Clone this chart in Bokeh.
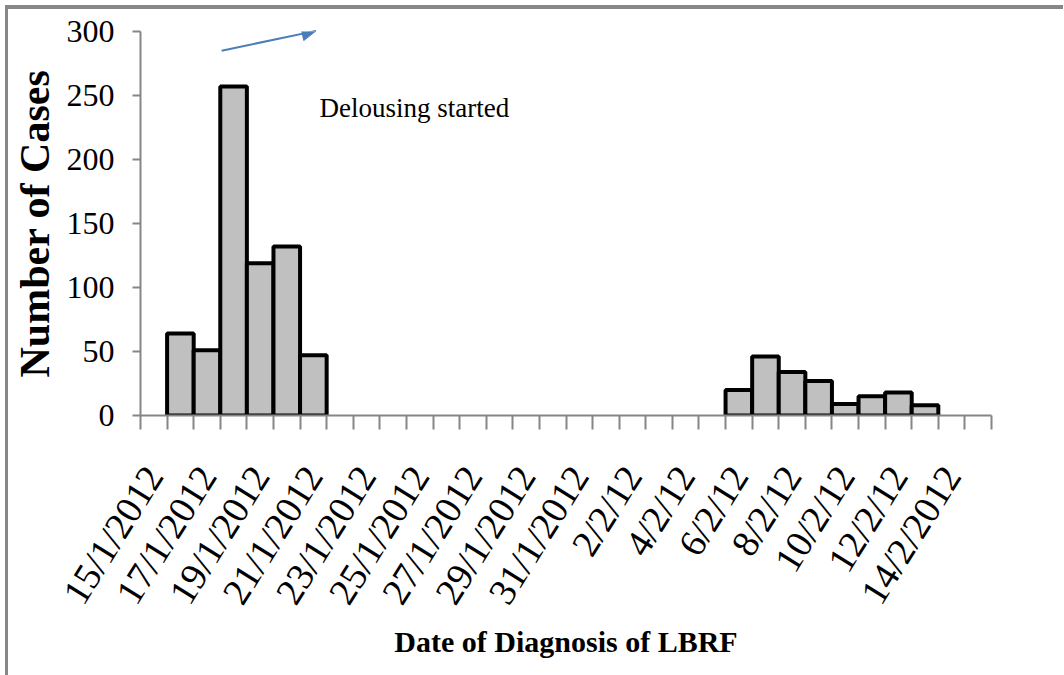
from bokeh.plotting import figure
from bokeh.models import FixedTicker, Range1d, Arrow, NormalHead, Label, ColumnDataSource
from bokeh.embed import file_html
from bokeh.resources import INLINE
import math

# ---- data ----
dates = ["15/1/2012", "16/1/2012", "17/1/2012", "18/1/2012", "19/1/2012", "20/1/2012",
         "21/1/2012", "22/1/2012", "23/1/2012", "24/1/2012", "25/1/2012", "26/1/2012",
         "27/1/2012", "28/1/2012", "29/1/2012", "30/1/2012", "31/1/2012", "1/2/12",
         "2/2/12", "3/2/12", "4/2/12", "5/2/12", "6/2/12", "7/2/12", "8/2/12", "9/2/12",
         "10/2/12", "11/2/12", "12/2/12", "13/2/12", "14/2/2012", "15/2/2012"]
cases = [0, 64, 51, 257, 119, 132, 47, 0, 0, 0, 0, 0, 0, 0, 0, 0, 0, 0,
         0, 0, 0, 0, 20, 46, 34, 27, 9, 15, 18, 8, 0, 0]
y_ticks = [0, 50, 100, 150, 200, 250, 300]
annotation_text = "Delousing started"
x_title = "Date of Diagnosis of LBRF"
y_title = "Number of Cases"

n = len(dates)
xs = [i + 0.5 for i, c in enumerate(cases) if c > 0]
hs = [c for c in cases if c > 0]
src = ColumnDataSource(dict(x=xs, top=hs))

FONT = "Liberation Serif"
AX = "#868686"

p = figure(frame_width=851, frame_height=384, output_backend="svg", toolbar_location=None,
           x_range=Range1d(0, n), y_range=Range1d(0, 300),
           min_border_left=125, min_border_top=22, min_border_right=72, min_border_bottom=262)
p.margin = (5, 0, 0, 5)
p.styles = {"border-left": "3px solid #878787", "border-top": "4px solid #878787"}
p.outline_line_color = None
p.xgrid.visible = False
p.ygrid.visible = False
p.background_fill_color = "white"

p.vbar(x="x", top="top", width=1.0, bottom=0, source=src,
       fill_color="#c0c0c0", line_color="black", line_width=4)

# x axis: labels at every other category centre, tick marks at category boundaries
label_pos = [i + 0.5 for i in range(0, n, 2)]
xa = p.xaxis[0]
xa.ticker = FixedTicker(ticks=label_pos, minor_ticks=list(range(0, n + 1)))
xa.major_label_overrides = {i + 0.5: dates[i] for i in range(0, n, 2)}
xa.major_tick_line_color = None
xa.minor_tick_line_color = AX
xa.minor_tick_line_width = 2
xa.minor_tick_out = 14
xa.minor_tick_in = 0
xa.axis_line_color = AX
xa.axis_line_width = 2
xa.major_label_orientation = math.radians(58)
xa.major_label_text_font = FONT
xa.major_label_text_font_size = "38px"
xa.major_label_text_color = "black"
xa.major_label_standoff = 40
xa.axis_label = x_title
xa.axis_label_text_font = FONT
xa.axis_label_text_font_style = "bold"
xa.axis_label_text_font_size = "30px"
xa.axis_label_text_color = "black"
xa.axis_label_standoff = 0

ya = p.yaxis[0]
ya.ticker = FixedTicker(ticks=y_ticks)
ya.minor_tick_line_color = None
ya.major_tick_line_color = AX
ya.major_tick_line_width = 2
ya.major_tick_out = 8
ya.major_tick_in = 0
ya.axis_line_color = AX
ya.axis_line_width = 2
ya.major_label_text_font = FONT
ya.major_label_text_font_size = "32px"
ya.major_label_text_color = "black"
ya.major_label_standoff = 18
ya.axis_label = y_title
ya.axis_label_text_font = FONT
ya.axis_label_text_font_style = "bold"
ya.axis_label_text_font_size = "42px"
ya.axis_label_text_color = "black"
ya.axis_label_standoff = 6

p.add_layout(Arrow(end=NormalHead(fill_color="#4a7ebb", line_color="#4a7ebb", size=14),
                   x_start=3.05, y_start=285, x_end=6.6, y_end=300.5,
                   line_color="#4a7ebb", line_width=2))
p.add_layout(Label(x=6.73, y=240, text=annotation_text, text_font=FONT,
                   text_font_size="27px", text_color="black", text_baseline="alphabetic"))

open("out.html", "w").write(file_html(p, INLINE))
